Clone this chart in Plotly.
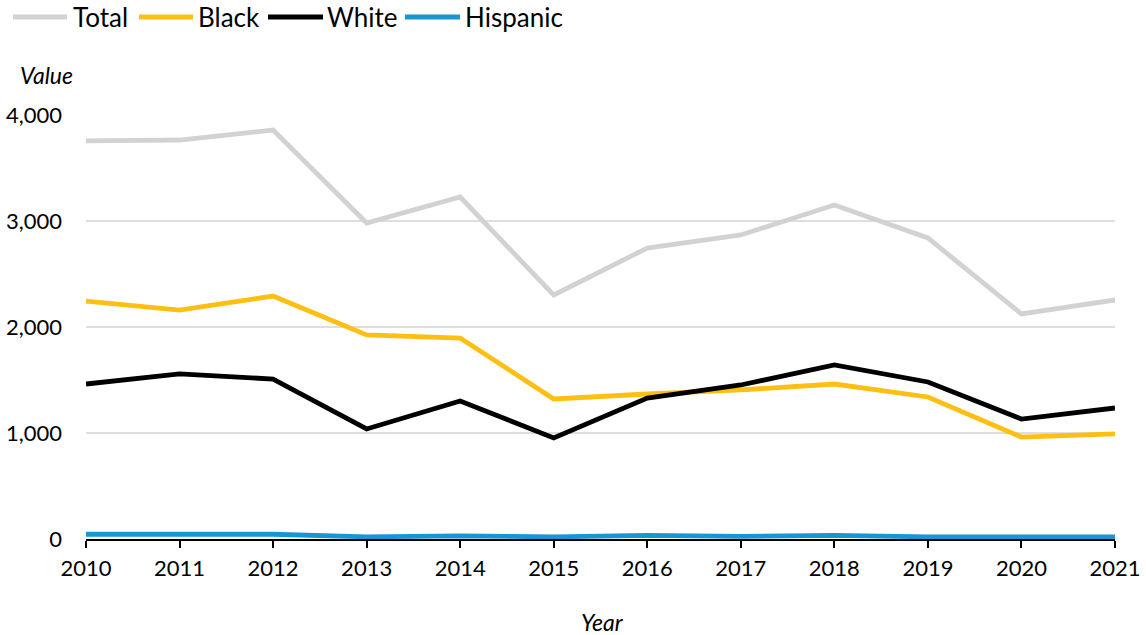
import plotly.graph_objects as go

years = list(range(2010, 2022))
total = [3755, 3764, 3858, 2981, 3226, 2302, 2745, 2868, 3151, 2840, 2123, 2255]
black = [2245, 2160, 2292, 1925, 1896, 1321, 1368, 1406, 1462, 1340, 962, 991]
white = [1462, 1557, 1509, 1038, 1302, 953, 1330, 1453, 1642, 1481, 1132, 1236]
hispanic = [45, 40, 45, 20, 30, 20, 35, 25, 35, 20, 20, 20]

names = ["Total", "Black", "White", "Hispanic"]
colors = ["#d2d2d2", "#fdbf11", "#000000", "#1696d2"]
values = [total, black, white, hispanic]

fig = go.Figure()
for name, vals, col in zip(names, values, colors):
    fig.add_trace(go.Scatter(x=years, y=vals, name=name, mode="lines",
                             line=dict(color=col, width=4.8), showlegend=False))

W, H = 1146, 635
ml, mr, mt, mb = 86, 31, 115, 96
pw, ph = W - ml - mr, H - mt - mb


def px(x):
    return (x - ml) / pw


def py(y):
    return (H - mb - y) / ph


fig.update_layout(
    width=W, height=H, autosize=False,
    margin=dict(l=ml, r=mr, t=mt, b=mb, autoexpand=False),
    paper_bgcolor="white", plot_bgcolor="white",
    font=dict(family="Lato, Noto Sans, sans-serif", size=22, color="#000"),
    showlegend=False,
    xaxis=dict(range=[2010, 2021], tickmode="array", tickvals=years,
               ticktext=[str(y) for y in years], showgrid=False, zeroline=False,
               showline=True, linecolor="#000", linewidth=2,
               ticks="outside", ticklen=7, tickwidth=2, tickcolor="#000",
               ticklabelstandoff=2, automargin=False,
               tickfont=dict(size=22)),
    yaxis=dict(range=[0, 4000], tickvals=[0, 1000, 2000, 3000, 4000],
               tickformat=",", showgrid=True, gridcolor="#dedede", gridwidth=2,
               zeroline=False, showline=False, ticks="", ticklabelstandoff=23,
               automargin=False, tickfont=dict(size=22)),
)

# legend drawn at top left (symbol start, symbol end, text start in pixels)
leg_pos = [(13, 67, 73), (139, 193, 198), (268, 323, 327), (405, 460, 465)]
leg_y = 17
for name, col, (s0, s1, t0) in zip(names, colors, leg_pos):
    fig.add_shape(type="line", xref="paper", yref="paper",
                  x0=px(s0), x1=px(s1), y0=py(leg_y), y1=py(leg_y),
                  line=dict(color=col, width=5))
    fig.add_annotation(text=name, xref="paper", yref="paper",
                       x=px(t0 - 2), y=py(leg_y), xanchor="left", yanchor="middle",
                       showarrow=False, font=dict(size=26))

fig.add_annotation(text="<i>Value</i>", xref="paper", yref="paper",
                   x=px(18), y=py(75), xanchor="left", yanchor="middle",
                   showarrow=False, font=dict(size=23))
fig.add_annotation(text="<i>Year</i>", xref="paper", yref="paper",
                   x=px(602), y=py(622), xanchor="center", yanchor="middle",
                   showarrow=False, font=dict(size=23))
fig.write_html("out.html")
